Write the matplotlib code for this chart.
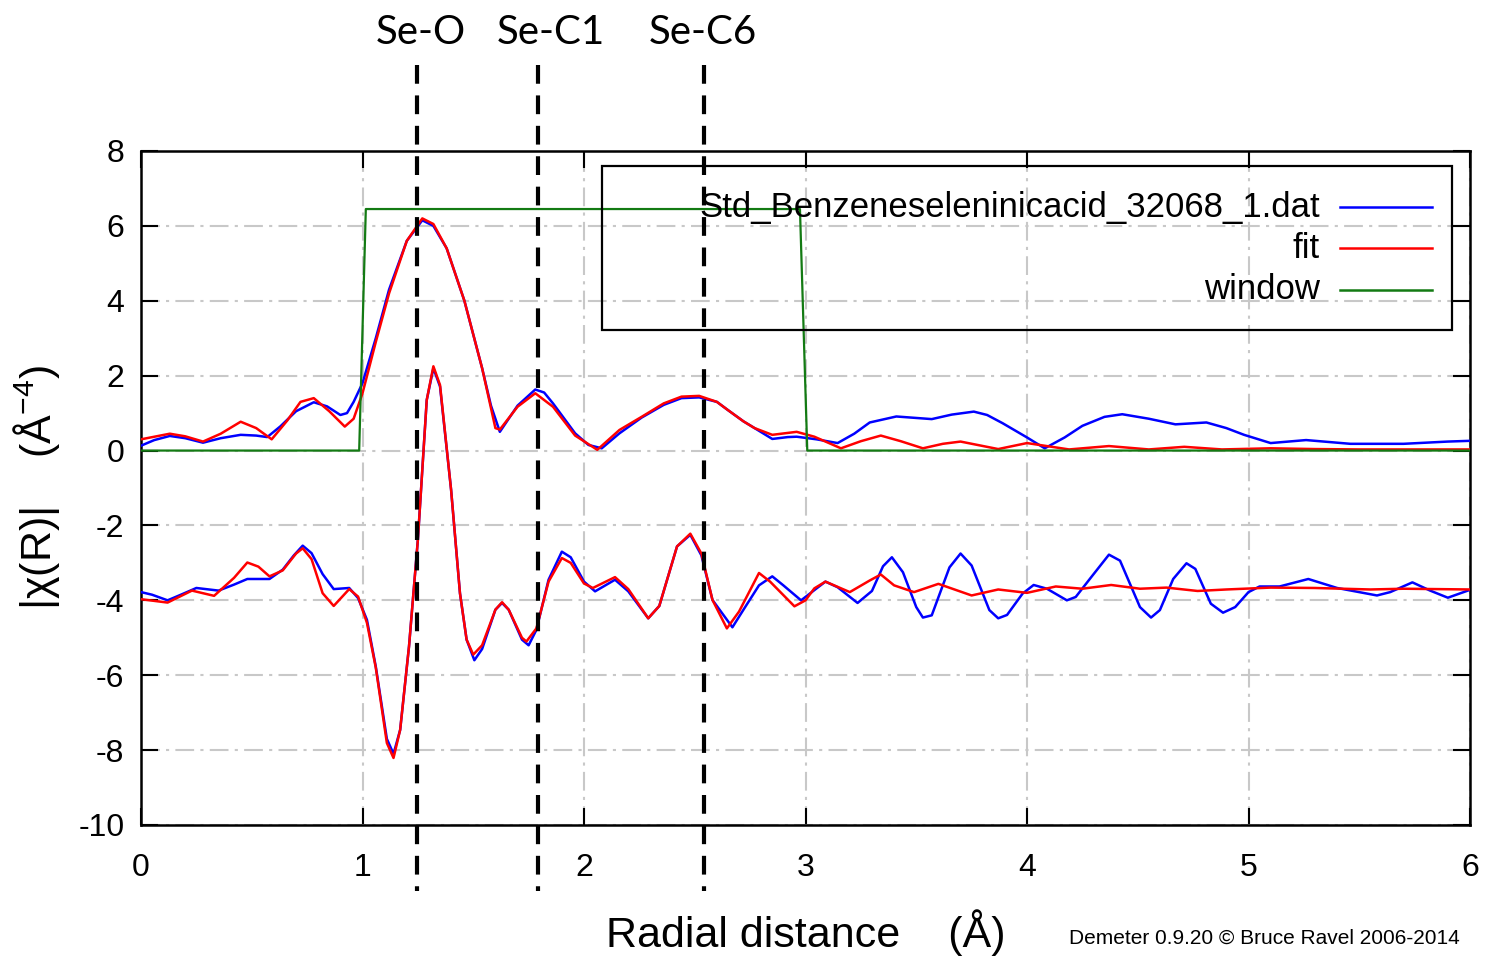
import numpy as np
import matplotlib.pyplot as plt
from matplotlib.patches import Rectangle

plt.rcParams['font.family'] = ['Liberation Sans', 'DejaVu Sans']
plt.rcParams['mathtext.fontset'] = 'custom'
plt.rcParams['mathtext.rm'] = 'Liberation Sans'
plt.rcParams['mathtext.default'] = 'regular'
plt.rcParams['axes.unicode_minus'] = False

# |chi(R)| of the data (upper blue curve)
r_mag_data = [0.0, 0.06, 0.13, 0.2, 0.28, 0.36, 0.45, 0.52, 0.57, 0.63, 0.70, 0.78, 0.84, 0.90, 0.93,
              0.96, 1.0, 1.06, 1.12, 1.2, 1.27, 1.32, 1.38, 1.46, 1.54, 1.58, 1.62, 1.70, 1.78, 1.82,
              1.86, 1.96, 2.02, 2.08, 2.16, 2.26, 2.36, 2.44, 2.52, 2.60, 2.65, 2.72, 2.77, 2.85, 2.92,
              2.96, 3.05, 3.145, 3.22, 3.29, 3.41, 3.57, 3.66, 3.76, 3.82, 3.89, 4.0, 4.08, 4.17, 4.25,
              4.35, 4.43, 4.55, 4.67, 4.81, 4.9, 4.98, 5.1, 5.26, 5.46, 5.7, 5.9, 6.0]
mag_data = [0.13, 0.28, 0.39, 0.33, 0.21, 0.33, 0.42, 0.40, 0.36, 0.65, 1.05, 1.29, 1.18, 0.95, 1.0,
            1.3, 1.8, 3.0, 4.3, 5.6, 6.15, 6.0, 5.4, 4.0, 2.2, 1.2, 0.5, 1.2, 1.63, 1.55,
            1.26, 0.46, 0.15, 0.06, 0.46, 0.88, 1.22, 1.40, 1.42, 1.3, 1.08, 0.78, 0.6, 0.31, 0.36,
            0.37, 0.3, 0.2, 0.45, 0.75, 0.91, 0.84, 0.96, 1.04, 0.95, 0.73, 0.35, 0.06, 0.35, 0.66,
            0.9, 0.97, 0.85, 0.70, 0.75, 0.6, 0.42, 0.2, 0.28, 0.18, 0.18, 0.24, 0.26]

# |chi(R)| of the fit (upper red curve)
r_mag_fit = [0.0, 0.13, 0.2, 0.28, 0.36, 0.45, 0.52, 0.59, 0.66, 0.72, 0.78, 0.85, 0.92, 0.96, 1.0,
             1.06, 1.12, 1.2, 1.27, 1.32, 1.38, 1.46, 1.54, 1.60, 1.62, 1.70, 1.78, 1.86, 1.96, 2.06,
             2.16, 2.26, 2.36, 2.44, 2.52, 2.60, 2.65, 2.72, 2.77, 2.85, 2.96, 3.04, 3.16, 3.25, 3.34,
             3.43, 3.53, 3.62, 3.7, 3.87, 4.0, 4.19, 4.37, 4.55, 4.71, 4.88, 5.1, 5.3, 5.5, 6.0]
mag_fit = [0.30, 0.45, 0.38, 0.24, 0.45, 0.77, 0.6, 0.30, 0.8, 1.3, 1.40, 1.05, 0.64, 0.85, 1.53,
           2.9, 4.2, 5.6, 6.2, 6.05, 5.4, 4.0, 2.2, 0.6, 0.56, 1.17, 1.53, 1.17, 0.4, 0.02,
           0.55, 0.9, 1.26, 1.44, 1.46, 1.3, 1.08, 0.78, 0.6, 0.42, 0.5, 0.37, 0.06, 0.25, 0.4,
           0.25, 0.06, 0.18, 0.24, 0.04, 0.2, 0.03, 0.12, 0.03, 0.1, 0.03, 0.06, 0.04, 0.03, 0.03]

# Re[chi(R)] of the data, already shifted down (lower blue curve)
r_re_data = [0.0, 0.05, 0.12, 0.18, 0.25, 0.35, 0.42, 0.48, 0.58, 0.64, 0.69, 0.73, 0.77, 0.82, 0.87,
             0.94, 0.98, 1.02, 1.06, 1.11, 1.14, 1.17, 1.21, 1.25, 1.29, 1.32, 1.35, 1.40, 1.44, 1.47,
             1.505, 1.54, 1.60, 1.63, 1.66, 1.72, 1.75, 1.785, 1.84, 1.90, 1.94, 2.0, 2.05, 2.14, 2.20,
             2.29, 2.34, 2.42, 2.48, 2.53, 2.58, 2.67, 2.72, 2.79, 2.85, 2.90, 2.98, 3.09, 3.145, 3.235,
             3.30, 3.35, 3.39, 3.44, 3.50, 3.53, 3.57, 3.65, 3.70, 3.75, 3.83, 3.87, 3.91, 3.98, 4.03,
             4.09, 4.18, 4.22, 4.29, 4.37, 4.42, 4.51, 4.56, 4.60, 4.66, 4.72, 4.76, 4.83, 4.885, 4.94,
             5.0, 5.05, 5.14, 5.27, 5.40, 5.58, 5.64, 5.74, 5.82, 5.90, 6.0]
re_data = [-3.78, -3.85, -4.0, -3.85, -3.67, -3.74, -3.58, -3.43, -3.43, -3.18, -2.8, -2.54, -2.74, -3.3, -3.70,
           -3.67, -3.94, -4.52, -5.77, -7.7, -8.1, -7.46, -5.23, -2.38, 1.35, 2.2, 1.71, -1.05, -3.81, -5.05,
           -5.6, -5.3, -4.25, -4.07, -4.25, -5.05, -5.2, -4.79, -3.45, -2.70, -2.85, -3.5, -3.76, -3.45, -3.76,
           -4.48, -4.15, -2.56, -2.25, -2.8, -3.99, -4.72, -4.25, -3.6, -3.36, -3.6, -4.0, -3.50, -3.65, -4.07,
           -3.75, -3.09, -2.85, -3.25, -4.18, -4.46, -4.40, -3.12, -2.75, -3.07, -4.26, -4.48, -4.39, -3.82, -3.59,
           -3.69, -4.0, -3.91, -3.38, -2.78, -2.94, -4.18, -4.46, -4.26, -3.43, -3.01, -3.16, -4.09, -4.33, -4.18,
           -3.78, -3.63, -3.63, -3.43, -3.67, -3.87, -3.78, -3.52, -3.74, -3.93, -3.72]

# Re[chi(R)] of the fit (lower red curve)
r_re_fit = [0.0, 0.12, 0.23, 0.33, 0.42, 0.48, 0.53, 0.58, 0.64, 0.70, 0.73, 0.77, 0.82, 0.87, 0.94,
            0.98, 1.02, 1.06, 1.11, 1.14, 1.17, 1.21, 1.25, 1.29, 1.32, 1.35, 1.40, 1.44, 1.47, 1.50,
            1.54, 1.60, 1.63, 1.66, 1.72, 1.74, 1.785, 1.84, 1.90, 1.94, 2.0, 2.04, 2.14, 2.20, 2.29,
            2.34, 2.42, 2.48, 2.53, 2.58, 2.645, 2.70, 2.79, 2.84, 2.95, 3.0, 3.04, 3.09, 3.2, 3.29,
            3.34, 3.40, 3.49, 3.6, 3.75, 3.87, 4.0, 4.13, 4.25, 4.38, 4.51, 4.63, 4.77, 4.90, 5.1,
            5.3, 5.55, 5.7, 6.0]
re_fit = [-3.97, -4.06, -3.74, -3.88, -3.4, -2.99, -3.1, -3.36, -3.2, -2.75, -2.61, -2.9, -3.81, -4.15, -3.70,
          -3.9, -4.6, -5.8, -7.81, -8.21, -7.46, -5.23, -2.38, 1.35, 2.25, 1.75, -1.05, -3.81, -5.05, -5.45,
          -5.2, -4.25, -4.05, -4.25, -5.0, -5.1, -4.75, -3.5, -2.87, -3.0, -3.55, -3.67, -3.38, -3.7, -4.48,
          -4.15, -2.56, -2.22, -2.75, -3.99, -4.75, -4.3, -3.27, -3.5, -4.16, -4.0, -3.68, -3.50, -3.78, -3.47,
          -3.31, -3.6, -3.78, -3.56, -3.87, -3.71, -3.80, -3.63, -3.69, -3.59, -3.69, -3.66, -3.75, -3.71, -3.66,
          -3.67, -3.71, -3.69, -3.71]

# fourier window
r_window = [0.0, 0.985, 1.015, 2.975, 3.008, 6.0]
window = [0, 0, 6.45, 6.45, 0, 0]

# marked shells
shell_r = [1.246, 1.792, 2.542]
shell_names = ['Se-O', 'Se-C1', 'Se-C6']

legend_names = ['Std_Benzeneseleninicacid_32068_1.dat', 'fit', 'window']

fig = plt.figure(figsize=(14.89, 9.58), dpi=100)
ax = fig.add_axes([141 / 1489, 1 - 825 / 958, 1329 / 1489, 674 / 958])

c_data, c_fit, c_win = '#0000ff', '#ff0000', '#137a13'
lw = 1.8
ax.plot(r_mag_data, mag_data, color=c_data, lw=lw, zorder=3)
ax.plot(r_mag_fit, mag_fit, color=c_fit, lw=lw, zorder=3)
ax.plot(r_re_data, re_data, color=c_data, lw=lw, zorder=3)
ax.plot(r_re_fit, re_fit, color=c_fit, lw=lw, zorder=3)
ax.plot(r_window, window, color=c_win, lw=1.6, zorder=4)

ax.set_xlim(0, 6)
ax.set_ylim(-10, 8)
ax.set_xticks(range(0, 7))
ax.set_yticks(range(-10, 9, 2))
ax.grid(True, color='#c8c8c8', lw=1.5, linestyle=(0, (9, 3, 1.5, 3)))
ax.set_axisbelow(True)
ax.tick_params(direction='in', length=12, width=1.5, top=True, right=True, labelsize=23)
ax.tick_params(axis='x', pad=20)
ax.tick_params(axis='y', pad=12)
for sp in ax.spines.values():
    sp.set_linewidth(1.8)

# dashed markers for the shells, running past the frame
for r in shell_r:
    ax.plot([r, r], [10.3, -11.75], color='black', lw=3, linestyle=(0, (4.5, 2.8)),
            clip_on=False, zorder=5)
label_x = [421, 551, 703]
for name, px in zip(shell_names, label_x):
    fig.text(px / 1489, 1 - 32 / 958, name, family='Lato', fontsize=29, ha='center', va='center')

# legend box drawn by hand, no fill
ax.add_patch(Rectangle((0.347, 0.7344), 0.6395, 0.2433, transform=ax.transAxes,
                       fill=False, edgecolor='black', lw=1.6, zorder=6))
rows_y = [0.9169, 0.856, 0.7938]
for name, col, yy in zip(legend_names, [c_data, c_fit, c_win], rows_y):
    ax.text(0.887, yy, name, transform=ax.transAxes, ha='right', va='center', fontsize=25, zorder=6)
    ax.plot([0.902, 0.9714], [yy, yy], transform=ax.transAxes, color=col, lw=lw, zorder=6)

fig.text(806 / 1489, 1 - 933 / 958, 'Radial distance    (Å)', fontsize=31, ha='center', va='center')
fig.text(37 / 1489, 1 - 488 / 958, '|χ(R)|    (Å$^{-4}$)', fontsize=31, rotation=90,
         ha='center', va='center')
fig.text(1460 / 1489, 1 - 938 / 958, 'Demeter 0.9.20 © Bruce Ravel 2006-2014', fontsize=15,
         ha='right', va='center')

fig.savefig('out.png', dpi=100)
